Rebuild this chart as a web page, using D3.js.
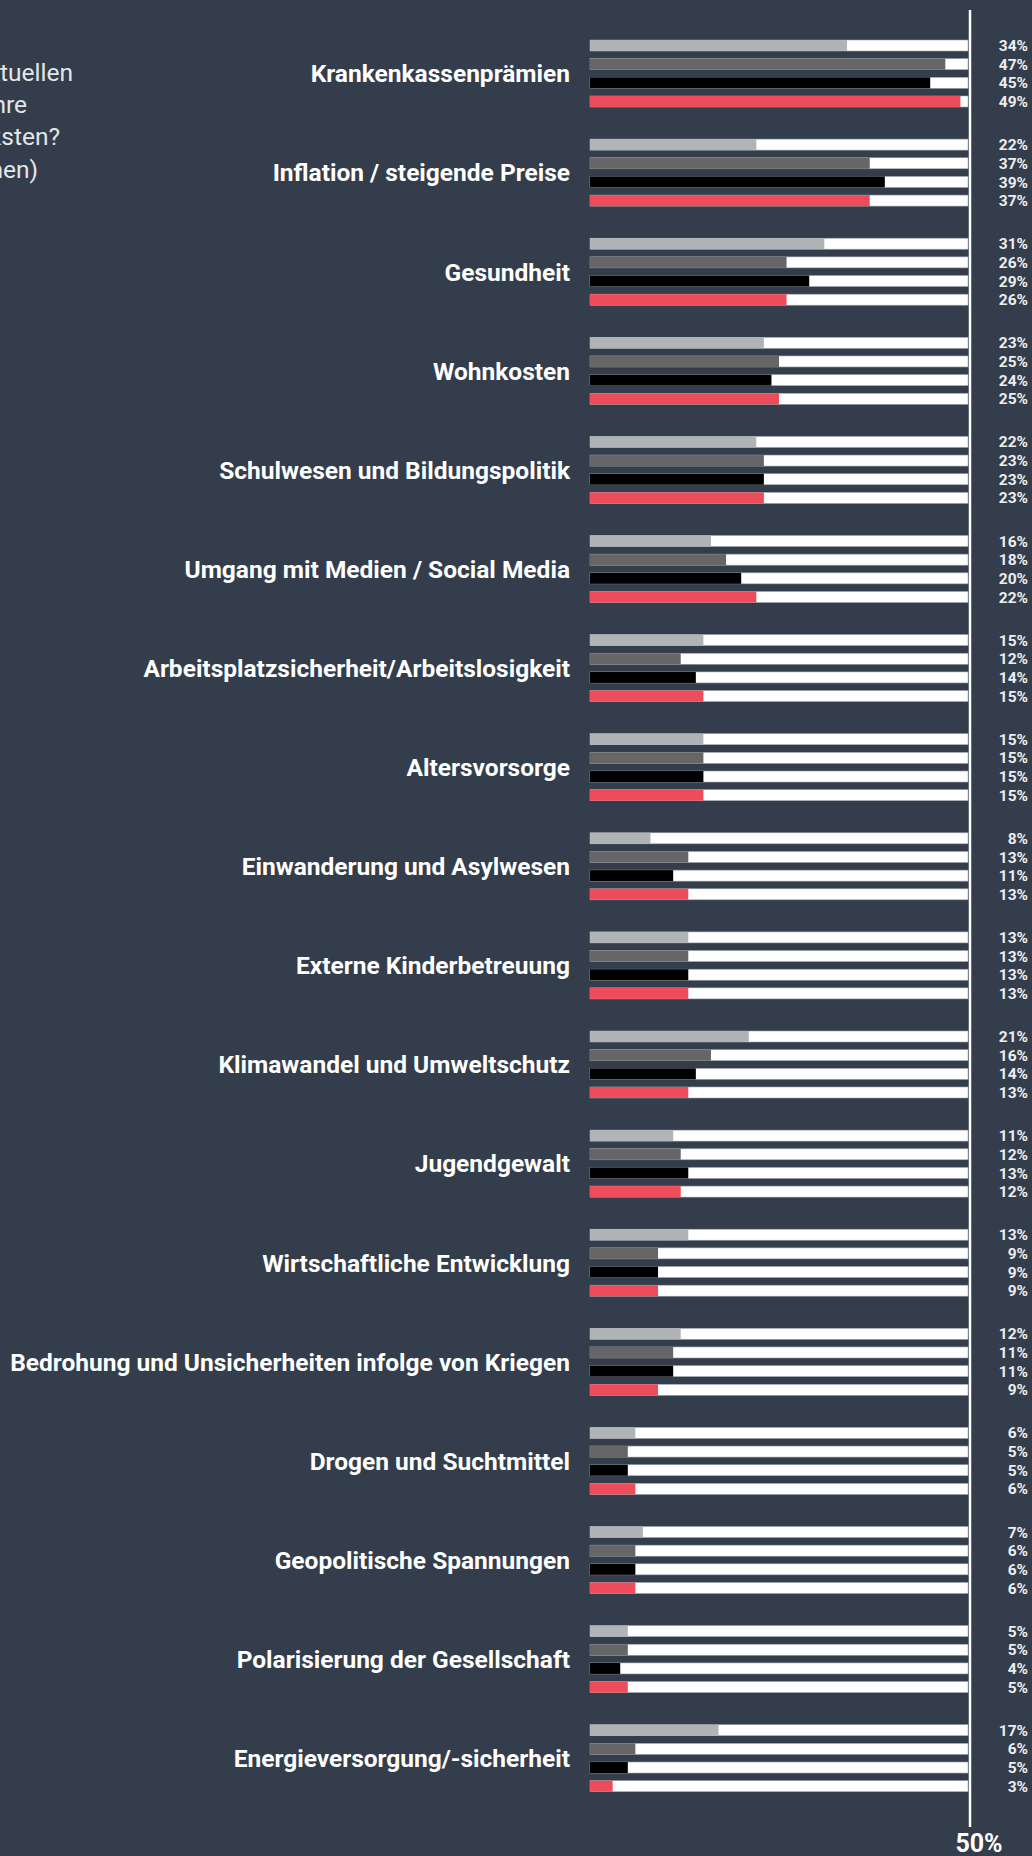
<!DOCTYPE html>
<html>
<head>
<meta charset="utf-8">
<script src="https://cdn.jsdelivr.net/npm/d3@7"></script>
<style>
  html, body { margin: 0; padding: 0; background: #333d4b; }
  svg { display: block; font-family: Roboto, "Noto Sans", sans-serif; }
</style>
</head>
<body>
<svg id="chart"></svg>
<script>
let width = 1032;
let height = 1856;

let categories = [
	'Krankenkassenprämien',
	'Inflation / steigende Preise',
	'Gesundheit',
	'Wohnkosten',
	'Schulwesen und Bildungspolitik',
	'Umgang mit Medien / Social Media',
	'Arbeitsplatzsicherheit/Arbeitslosigkeit',
	'Altersvorsorge',
	'Einwanderung und Asylwesen',
	'Externe Kinderbetreuung',
	'Klimawandel und Umweltschutz',
	'Jugendgewalt',
	'Wirtschaftliche Entwicklung',
	'Bedrohung und Unsicherheiten infolge von Kriegen',
	'Drogen und Suchtmittel',
	'Geopolitische Spannungen',
	'Polarisierung der Gesellschaft',
	'Energieversorgung/-sicherheit'
];

let series = ['2021', '2022', '2023', '2024'];
let series_colors = ['#b1b4b7', '#666666', '#000000', '#ef4c5b'];

let values_2021 = [34, 22, 31, 23, 22, 16, 15, 15, 8, 13, 21, 11, 13, 12, 6, 7, 5, 17];
let values_2022 = [47, 37, 26, 25, 23, 18, 12, 15, 13, 13, 16, 12, 9, 11, 5, 6, 5, 6];
let values_2023 = [45, 39, 29, 24, 23, 20, 14, 15, 11, 13, 14, 13, 9, 11, 5, 6, 4, 5];
let values_2024 = [49, 37, 26, 25, 23, 22, 15, 15, 13, 13, 13, 12, 9, 9, 6, 6, 5, 3];

let axis_max = 50;
let axis_label = '50%';

// question text, only the end of each line is inside the picture
let title_lines = [
	'Welche der folgenden Themen beschäftigen Sie in der aktuellen',
	'Situation am meisten, wenn Sie an Ihre Familie und Ihre',
	'Zukunft denken, bzw. welche belasten Sie am stärksten?',
	'(Angaben in Prozent, Mehrfachnennungen möglich, aller Befragten sehen)'
];
let title_ends = [73, 27, 60, 38];

let all_values = [values_2021, values_2022, values_2023, values_2024];
let data = categories.map((c, i) => ({
	category: c,
	values: series.map((s, j) => ({series: s, color: series_colors[j], value: all_values[j][i]}))
}));

let svg = d3.select('#chart')
	.attr('width', width)
	.attr('height', height);

let x = d3.scaleLinear()
	.domain([0, axis_max])
	.range([590, 968]);

let group_step = 99.1;
let group_span = 67;

let y = d3.scaleBand()
	.domain(categories)
	.range([40, 40 + group_step * categories.length])
	.paddingInner(0)
	.paddingOuter(0)
	.align(0);

let y_inner = d3.scaleBand()
	.domain(series)
	.range([0, group_span])
	.paddingInner(0.41)
	.paddingOuter(0);

// title text at left, cut off by the page edge
svg.append('g')
	.selectAll('text')
	.data(title_lines)
	.enter().append('text')
	.attr('x', (d, i) => title_ends[i])
	.attr('y', (d, i) => 81 + i * 32.2)
	.attr('text-anchor', 'end')
	.attr('fill', '#e4e6e9')
	.attr('font-size', 24.5)
	.attr('font-weight', 400)
	.text(d => d);

let groups = svg.selectAll('.group')
	.data(data)
	.enter().append('g')
	.attr('class', 'group')
	.attr('transform', d => `translate(0, ${y(d.category)})`);

// category labels
groups.append('text')
	.attr('x', 570)
	.attr('y', group_span / 2)
	.attr('dy', '0.36em')
	.attr('text-anchor', 'end')
	.attr('fill', '#ffffff')
	.attr('font-size', 24.5)
	.attr('font-weight', 700)
	.text(d => d.category);

// white track bars
groups.selectAll('.track')
	.data(d => d.values)
	.enter().append('rect')
	.attr('class', 'track')
	.attr('x', x(0))
	.attr('y', d => y_inner(d.series))
	.attr('width', x(axis_max) - x(0))
	.attr('height', y_inner.bandwidth())
	.attr('fill', '#ffffff')
	.attr('stroke', '#9ea3aa')
	.attr('stroke-width', 0.6);

// value bars
groups.selectAll('.bar')
	.data(d => d.values)
	.enter().append('rect')
	.attr('class', 'bar')
	.attr('x', x(0))
	.attr('y', d => y_inner(d.series))
	.attr('width', d => x(d.value) - x(0))
	.attr('height', y_inner.bandwidth())
	.attr('fill', d => d.color);

// value labels
groups.selectAll('.val')
	.data(d => d.values)
	.enter().append('text')
	.attr('class', 'val')
	.attr('x', 1028)
	.attr('y', d => y_inner(d.series) + y_inner.bandwidth() / 2)
	.attr('dy', '0.36em')
	.attr('text-anchor', 'end')
	.attr('fill', '#eceef0')
	.attr('font-size', 15.5)
	.attr('font-weight', 700)
	.text(d => d.value + '%');

// 50% axis line
svg.append('line')
	.attr('x1', x(axis_max) + 2)
	.attr('x2', x(axis_max) + 2)
	.attr('y1', 10)
	.attr('y2', 1827)
	.attr('stroke', '#ffffff')
	.attr('stroke-width', 2.5);

svg.append('text')
	.attr('x', x(axis_max) + 11)
	.attr('y', 1852)
	.attr('text-anchor', 'middle')
	.attr('fill', '#ffffff')
	.attr('font-size', 25)
	.attr('font-weight', 700)
	.text(axis_label);
</script>
</body>
</html>
